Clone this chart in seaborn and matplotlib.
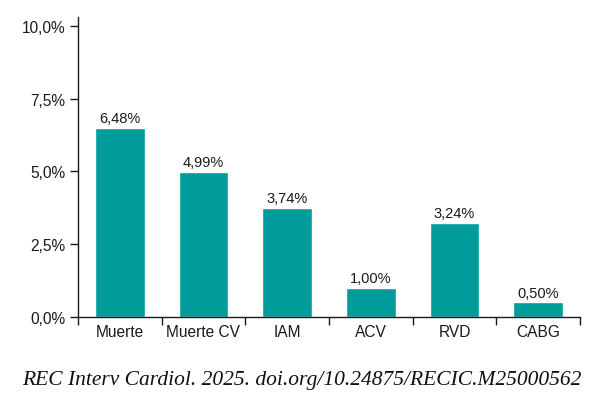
import matplotlib
matplotlib.use("Agg")
import matplotlib.pyplot as plt
import seaborn as sns
import pandas as pd
import numpy as np
from matplotlib.ticker import FixedLocator, FuncFormatter

categories = ["Muerte", "Muerte CV", "IAM", "ACV", "RVD", "CABG"]
values = [6.48, 4.99, 3.74, 1.00, 3.24, 0.50]
yticks = [0, 2.5, 5, 7.5, 10]

sns.set_style("white")
plt.rcParams['font.family'] = ['Liberation Sans', 'DejaVu Sans']
plt.rcParams['xtick.bottom'] = True
plt.rcParams['ytick.left'] = True

df = pd.DataFrame({"cat": categories, "val": values})

fig = plt.figure(figsize=(6.03, 4.02), dpi=100)
ax = fig.add_axes([78/603, 1-318/402, (580-78)/603, (318-18)/402])
sns.barplot(data=df, x="cat", y="val", color="#009C9C", saturation=1, width=0.59, ax=ax)

ax.set_xlim(-0.5, len(categories)-0.5)
ax.set_ylim(0, 10.3)
ax.set_yticks(yticks)
ax.yaxis.set_major_formatter(FuncFormatter(lambda v, p: f"{v:.1f}".replace(".", ",") + "%"))
ax.set_xticks(range(len(categories)))
ax.set_xticklabels(categories)
ax.xaxis.set_minor_locator(FixedLocator(np.arange(-0.5, len(categories), 1.0)))
ax.tick_params(axis='x', which='major', bottom=False, length=0, pad=5, labelsize=11.2, colors='#1a1a1a')
ax.tick_params(axis='x', which='minor', bottom=True, length=6, width=1, direction='out', color='#1a1a1a')
ax.tick_params(axis='y', left=True, length=6, width=1, direction='out', labelsize=11.2, color='#1a1a1a', labelcolor='#1a1a1a', pad=3)
ax.set_xlabel("")
ax.set_ylabel("")
for s in ["top", "right"]:
    ax.spines[s].set_visible(False)
for s in ["left", "bottom"]:
    ax.spines[s].set_color('#1a1a1a')
    ax.spines[s].set_linewidth(1)

for c in ax.containers:
    ax.bar_label(c, labels=[f"{v:.2f}".replace(".", ",") + "%" for v in values],
                 padding=2, fontsize=10.5, color='#1a1a1a')

fig.text(0.5, 1-381/402, "REC Interv Cardiol. 2025. doi.org/10.24875/RECIC.M25000562",
         ha='center', va='center', fontsize=15.5, style='italic',
         family=['Liberation Serif', 'DejaVu Serif'], color='#111111')

fig.savefig("out.png", dpi=100)
